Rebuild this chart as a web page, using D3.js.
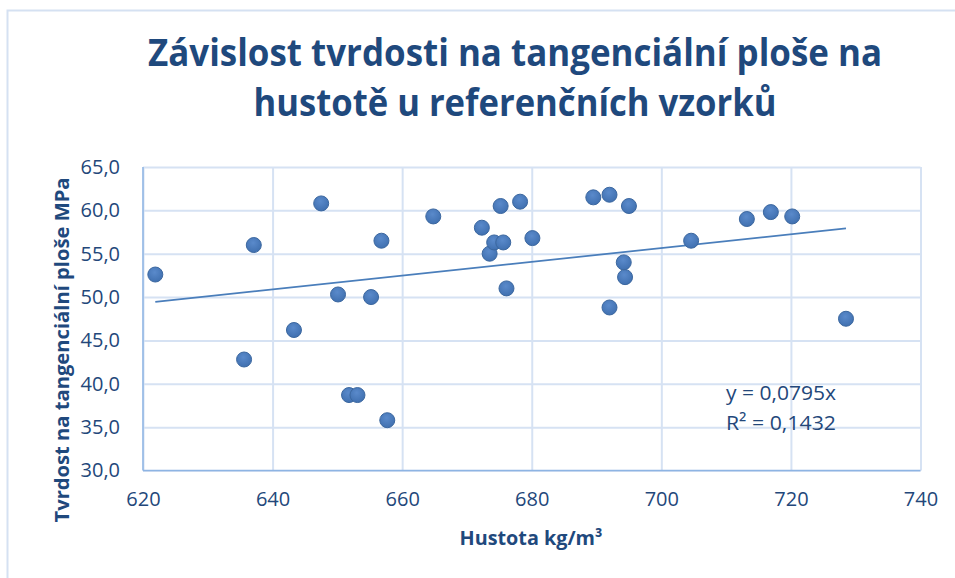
<!DOCTYPE html>
<html>
<head>
<meta charset="utf-8">
<script src="https://cdn.jsdelivr.net/npm/d3@7"></script>
<style>
  html, body { margin: 0; padding: 0; background: #ffffff; }
  svg { display: block; }
  text { font-family: "Open Sans", "Noto Sans", "DejaVu Sans", sans-serif; }
</style>
</head>
<body>
<svg id="chart" width="955" height="578"></svg>
<script>
// ---- data ----
const titleLines = ["Závislost tvrdosti na tangenciální ploše na", "hustotě u referenčních vzorků"];
const xTitle = "Hustota kg/m³";
const yTitle = "Tvrdost na tangenciální ploše MPa";
const density = [621.9, 635.6, 637.1, 643.3, 647.5, 650.1, 651.8, 653.1, 655.2, 656.8, 657.7,
                 664.8, 672.3, 673.5, 674.2, 675.2, 675.6, 676.1, 678.2, 680.1,
                 689.5, 692.0, 692.0, 694.2, 694.4, 695.0, 704.6, 713.2, 716.9, 720.2, 728.5];
const hardness = [52.6, 42.8, 56.0, 46.2, 60.8, 50.3, 38.7, 38.7, 50.0, 56.5, 35.8,
                  59.3, 58.0, 55.0, 56.3, 60.5, 56.3, 51.0, 61.0, 56.8,
                  61.5, 61.8, 48.8, 54.0, 52.3, 60.5, 56.5, 59.0, 59.8, 59.3, 47.5];
const xTicks = [620, 640, 660, 680, 700, 720, 740];
const yTicks = [30, 35, 40, 45, 50, 55, 60, 65];
const trendSlope = 0.0795;          // y = 0,0795x (intercept 0)
const eqLines = ["y = 0,0795x", "R² = 0,1432"];

// ---- drawing ----
const svg = d3.select("#chart");
const W = 955, H = 578;
const plot = { left: 143, right: 920.5, top: 167, bottom: 470.5 };

const x = d3.scaleLinear().domain([620, 740]).range([plot.left, plot.right]);
const y = d3.scaleLinear().domain([30, 65]).range([plot.bottom, plot.top]);

svg.append("rect").attr("width", W).attr("height", H).attr("fill", "#fff");

// chart-area border (top & left visible)
svg.append("path")
  .attr("d", `M7.5,${H} L7.5,10.5 L${W},10.5`)
  .attr("fill", "none").attr("stroke", "#D5E1F2").attr("stroke-width", 2);

const defs = svg.append("defs");
const grad = defs.append("radialGradient").attr("id", "dot")
  .attr("cx", "45%").attr("cy", "35%").attr("r", "65%");
grad.append("stop").attr("offset", "0%").attr("stop-color", "#5A8ACB");
grad.append("stop").attr("offset", "100%").attr("stop-color", "#4070B0");

// gridlines
const gridColor = "#D6E2F3";
svg.append("g")
  .attr("transform", `translate(0,${plot.bottom})`)
  .call(d3.axisBottom(x).tickValues(xTicks).tickSize(-(plot.bottom - plot.top)).tickFormat(""))
  .call(g => g.select(".domain").remove())
  .call(g => g.selectAll("line").attr("stroke", gridColor).attr("stroke-width", 2));
svg.append("g")
  .attr("transform", `translate(${plot.left},0)`)
  .call(d3.axisLeft(y).tickValues(yTicks).tickSize(-(plot.right - plot.left)).tickFormat(""))
  .call(g => g.select(".domain").remove())
  .call(g => g.selectAll("line").attr("stroke", gridColor).attr("stroke-width", 2));

// axis lines
svg.append("line").attr("x1", plot.left).attr("x2", plot.left)
  .attr("y1", plot.top).attr("y2", plot.bottom)
  .attr("stroke", "#8EB4E3").attr("stroke-width", 1.5);
svg.append("line").attr("x1", plot.left).attr("x2", plot.right)
  .attr("y1", plot.bottom).attr("y2", plot.bottom)
  .attr("stroke", "#8EB4E3").attr("stroke-width", 1.5);

// tick labels
const tickColor = "#23477A";
const fmt = d => d.toFixed(1).replace(".", ",");
svg.append("g")
  .attr("transform", `translate(${plot.left},0)`)
  .call(d3.axisLeft(y).tickValues(yTicks).tickSize(0).tickPadding(23).tickFormat(fmt))
  .call(g => g.select(".domain").remove())
  .call(g => g.selectAll("text").attr("fill", tickColor)
    .style("font-family", "'Open Sans', sans-serif").style("font-size", "20px"));
svg.append("g")
  .attr("transform", `translate(0,${plot.bottom})`)
  .call(d3.axisBottom(x).tickValues(xTicks).tickSize(0).tickPadding(21).tickFormat(d3.format("d")))
  .call(g => g.select(".domain").remove())
  .call(g => g.selectAll("text").attr("fill", tickColor)
    .style("font-family", "'Open Sans', sans-serif").style("font-size", "20px"));

// trendline y = slope * x
const xMin = d3.min(density), xMax = d3.max(density);
svg.append("line")
  .attr("x1", x(xMin)).attr("y1", y(trendSlope * xMin))
  .attr("x2", x(xMax)).attr("y2", y(trendSlope * xMax))
  .attr("stroke", "#4A7EBB").attr("stroke-width", 1.75);

// points
svg.append("g").selectAll("circle")
  .data(density.map((d, i) => [d, hardness[i]]))
  .join("circle")
  .attr("cx", d => x(d[0])).attr("cy", d => y(d[1])).attr("r", 7.5)
  .attr("fill", "url(#dot)").attr("stroke", "#3B679F").attr("stroke-width", 1);

// equation
svg.append("g").selectAll("text").data(eqLines).join("text")
  .attr("x", 726).attr("y", (d, i) => 400 + i * 29.5)
  .attr("fill", tickColor).style("font-size", "20px")
  .attr("textLength", 110).attr("lengthAdjust", "spacingAndGlyphs")
  .text(d => d);

// title
const titleWidths = [734, 523];
svg.append("g").selectAll("text").data(titleLines).join("text")
  .attr("x", 515).attr("y", (d, i) => 66 + i * 50)
  .attr("text-anchor", "middle")
  .attr("fill", "#1F497D").style("font-size", "38px").style("font-weight", "bold")
  .attr("textLength", (d, i) => titleWidths[i]).attr("lengthAdjust", "spacingAndGlyphs")
  .text(d => d);

// axis titles
svg.append("text")
  .attr("x", 531).attr("y", 545).attr("text-anchor", "middle")
  .attr("fill", "#1F497D").style("font-size", "20px").style("font-weight", "bold")
  .attr("textLength", 143).attr("lengthAdjust", "spacingAndGlyphs")
  .text(xTitle);
svg.append("text")
  .attr("transform", "translate(69,350) rotate(-90)").attr("text-anchor", "middle")
  .attr("fill", "#1F497D").style("font-size", "20px").style("font-weight", "bold")
  .attr("textLength", 345).attr("lengthAdjust", "spacingAndGlyphs")
  .text(yTitle);
</script>
</body>
</html>
